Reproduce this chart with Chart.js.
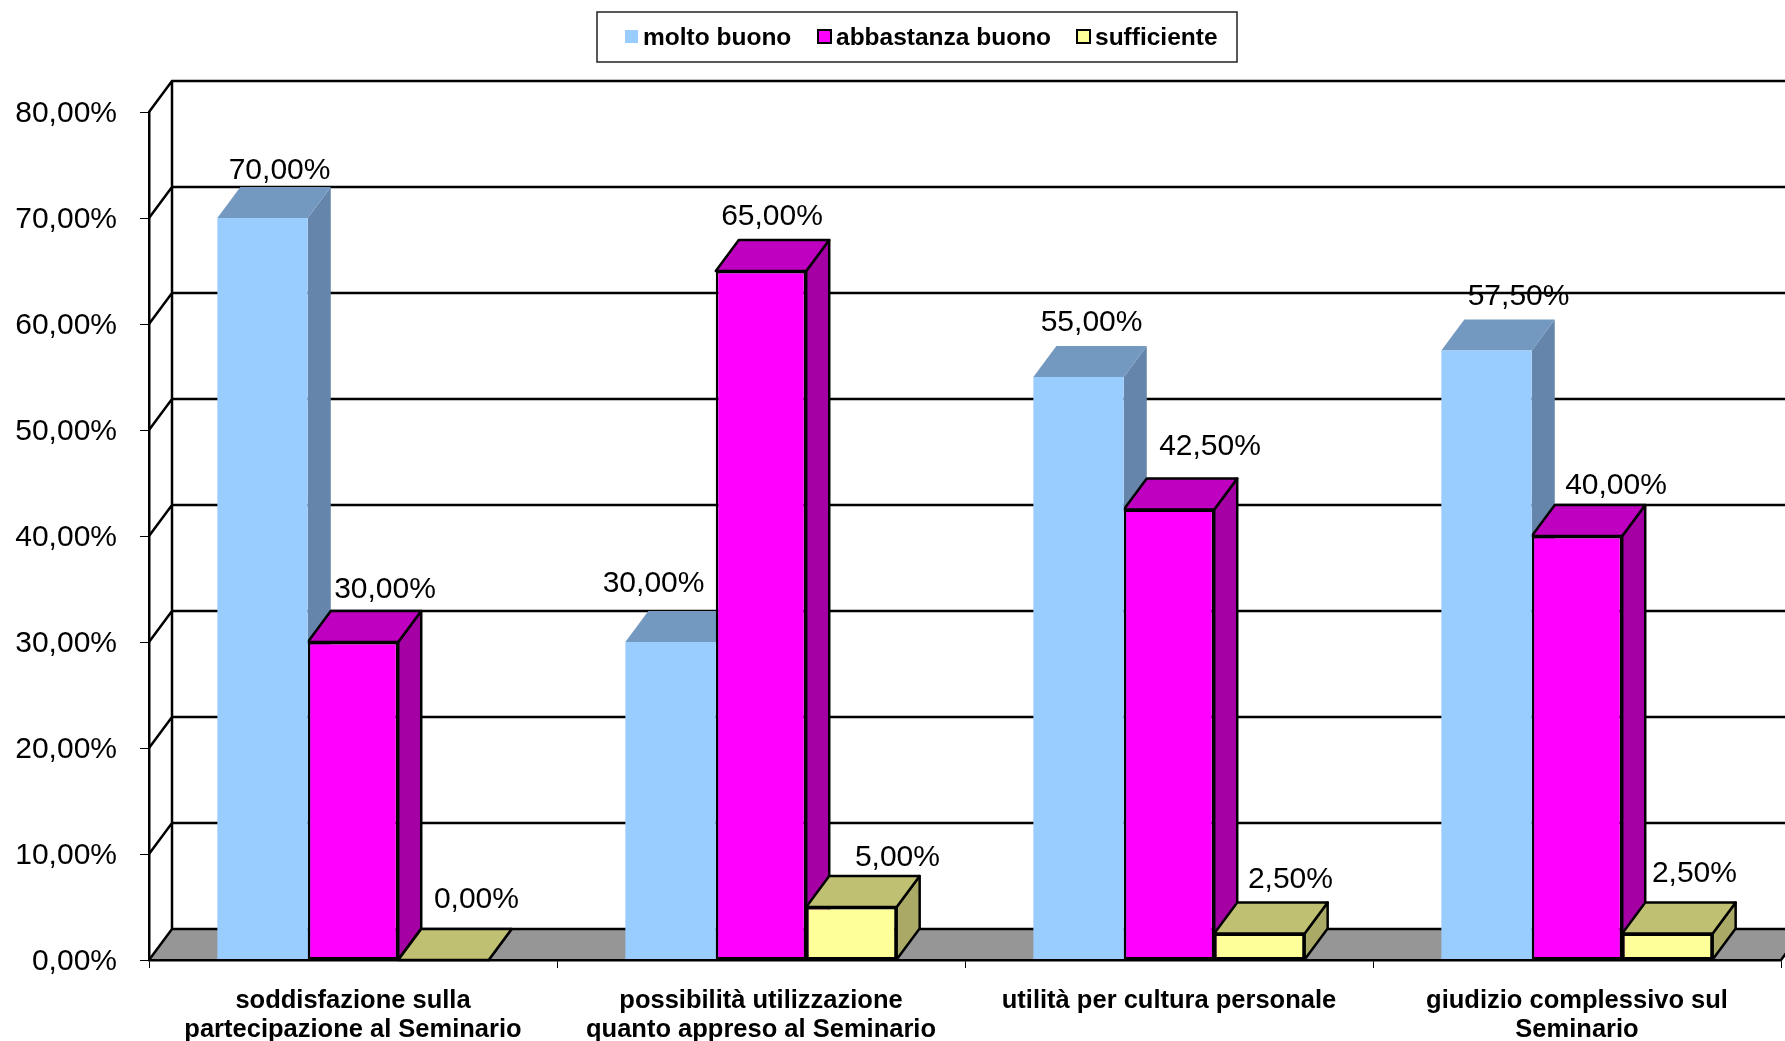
<!DOCTYPE html>
<html>
<head>
<meta charset="utf-8">
<title>Valutazione Seminario</title>
<script src="https://cdn.jsdelivr.net/npm/chart.js@4"></script>
<style>
  html, body { margin: 0; padding: 0; background: #fff; overflow: hidden; }
  canvas { display: block; }
</style>
</head>
<body>
<canvas id="chart" width="1785" height="1041"></canvas>
<script>
const categories = [
  ["soddisfazione sulla", "partecipazione al Seminario"],
  ["possibilità utilizzazione", "quanto appreso al Seminario"],
  ["utilità per cultura personale"],
  ["giudizio complessivo sul", "Seminario"],
];
const molto = [70, 30, 55, 57.5];
const abbastanza = [30, 65, 42.5, 40];
const sufficiente = [0, 5, 2.5, 2.5];
const yTickLabels = ["0,00%", "10,00%", "20,00%", "30,00%", "40,00%", "50,00%", "60,00%", "70,00%", "80,00%"];

// the labels were moved by hand in the original, so each has its own nudge
const nudgeX = [[17, -17, 13, 32], [32, 11, 41, 39], [33, 46, 31, 27]];
const nudgeY = [[-47, -58, -54, -54], [-52, -54, -63, -50], [-60, -49, -54, -60]];

const depthX = 23;
const depthY = -31;
const faceColors = [
  { top: "#7399C0", side: "#6685AA", line: null },
  { top: "#C000C0", side: "#A400A4", line: "#000" },
  { top: "#C0C073", side: "#AAAA66", line: "#000" },
];

function poly(ctx, pts, fill, line) {
  ctx.beginPath();
  pts.forEach((p, i) => (i ? ctx.lineTo(p[0], p[1]) : ctx.moveTo(p[0], p[1])));
  ctx.closePath();
  ctx.fillStyle = fill;
  ctx.fill();
  if (line) {
    ctx.strokeStyle = line;
    ctx.lineWidth = 2.5;
    ctx.lineJoin = "round";
    ctx.stroke();
  }
}

function formatValue(v) {
  return v.toFixed(2).replace(".", ",") + "%";
}

const box3d = {
  id: "box3d",
  beforeDatasetsDraw(chart) {
    const ctx = chart.ctx;
    const area = chart.chartArea;
    const yScale = chart.scales.y;
    ctx.save();
    // floor
    poly(ctx, [
      [area.left, area.bottom],
      [area.right, area.bottom],
      [area.right + depthX, area.bottom + depthY],
      [area.left + depthX, area.bottom + depthY],
    ], "#969696", null);
    // back wall lines
    ctx.strokeStyle = "#000";
    ctx.lineWidth = 2.5;
    ctx.beginPath();
    yScale.ticks.forEach((t) => {
      const y = yScale.getPixelForValue(t.value);
      ctx.moveTo(area.left, y);
      ctx.lineTo(area.left + depthX, y + depthY);
      ctx.lineTo(area.right + depthX, y + depthY);
    });
    ctx.moveTo(area.left + depthX, area.top + depthY);
    ctx.lineTo(area.left + depthX, area.bottom + depthY);
    ctx.moveTo(area.right, area.bottom);
    ctx.lineTo(area.right + depthX, area.bottom + depthY);
    ctx.stroke();
    // side and top of every bar, the fronts come from the library afterwards
    chart.data.labels.forEach((_, i) => {
      chart.data.datasets.forEach((ds, d) => {
        const bar = chart.getDatasetMeta(d).data[i];
        const c = faceColors[d];
        const l = bar.x - bar.width / 2;
        const r = bar.x + bar.width / 2;
        poly(ctx, [[r, bar.y], [r + depthX, bar.y + depthY], [r + depthX, bar.base + depthY], [r, bar.base]], c.side, c.line);
        poly(ctx, [[l, bar.y], [l + depthX, bar.y + depthY], [r + depthX, bar.y + depthY], [r, bar.y]], c.top, c.line);
      });
    });
    ctx.restore();
  },
  afterDatasetsDraw(chart) {
    const ctx = chart.ctx;
    ctx.save();
    ctx.font = "30px 'Liberation Sans'";
    ctx.fillStyle = "#000";
    ctx.textAlign = "center";
    ctx.textBaseline = "middle";
    chart.data.datasets.forEach((ds, d) => {
      chart.getDatasetMeta(d).data.forEach((bar, i) => {
        ctx.fillText(formatValue(ds.data[i]), bar.x + nudgeX[d][i], bar.y + nudgeY[d][i]);
      });
    });
    ctx.restore();
  },
  afterDraw(chart) {
    // framed legend, packed tighter than the built-in one allows
    const ctx = chart.ctx;
    const boxLeft = [625, 818, 1077];
    ctx.save();
    ctx.fillStyle = "#fff";
    ctx.strokeStyle = "#222";
    ctx.lineWidth = 1.5;
    ctx.fillRect(597, 12, 640, 50);
    ctx.strokeRect(597, 12, 640, 50);
    ctx.font = "bold 24.5px 'Liberation Sans'";
    ctx.textBaseline = "middle";
    ctx.textAlign = "left";
    chart.data.datasets.forEach((ds, d) => {
      ctx.fillStyle = ds.backgroundColor;
      ctx.fillRect(boxLeft[d], 30, 13, 13);
      if (d > 0) {
        ctx.strokeStyle = "#000";
        ctx.lineWidth = 2;
        ctx.strokeRect(boxLeft[d], 30, 13, 13);
      }
      ctx.fillStyle = "#000";
      ctx.fillText(ds.label, boxLeft[d] + 18, 38);
    });
    ctx.restore();
  },
};

new Chart(document.getElementById("chart"), {
  type: "bar",
  plugins: [box3d],
  data: {
    labels: categories,
    datasets: [
      { label: "molto buono", data: molto, backgroundColor: "#99CCFF", borderWidth: 0 },
      { label: "abbastanza buono", data: abbastanza, backgroundColor: "#FF00FF", borderColor: "#000", borderWidth: 2.5, borderSkipped: false },
      { label: "sufficiente", data: sufficiente, backgroundColor: "#FFFF99", borderColor: "#000", borderWidth: 2.5, borderSkipped: false },
    ],
  },
  options: {
    responsive: false,
    animation: false,
    categoryPercentage: 0.665,
    barPercentage: 1,
    layout: { padding: { top: 112, right: 4, left: 0, bottom: 0 } },
    plugins: { legend: { display: false }, tooltip: { enabled: false } },
    scales: {
      x: {
        afterFit: (s) => { s.height = 81; },
        border: { color: "#000", width: 2.5, z: 1 },
        grid: { offset: true, drawOnChartArea: false, tickLength: 8, tickColor: "#000", tickWidth: 1, z: 1 },
        ticks: {
          color: "#000",
          padding: 18,
          maxRotation: 0,
          autoSkip: false,
          font: { family: "'Liberation Sans'", size: 25.5, weight: "bold", lineHeight: 1.16 },
        },
      },
      y: {
        min: 0,
        max: 80,
        afterFit: (s) => { s.width = 149; },
        border: { color: "#000", width: 2.5, z: 1 },
        grid: { drawOnChartArea: false, tickLength: 9, tickColor: "#000", tickWidth: 1, z: 1 },
        ticks: {
          stepSize: 10,
          color: "#000",
          padding: 23,
          labelOffset: 2,
          font: { family: "'Liberation Sans'", size: 30 },
          callback: (v, i) => yTickLabels[i],
        },
      },
    },
  },
});
</script>
</body>
</html>
